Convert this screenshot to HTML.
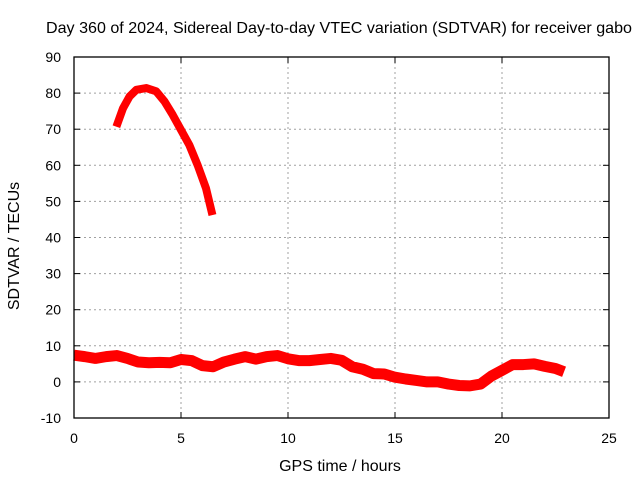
<!DOCTYPE html>
<html><head><meta charset="utf-8"><style>
body{margin:0;background:#fff}
svg text{font-family:"Liberation Sans",sans-serif;font-size:14px;fill:#000}
svg text.big{font-size:16px}
</style></head><body>
<svg id="chart" width="640" height="480">
<text class="big" x="339" y="33" text-anchor="middle" textLength="586" lengthAdjust="spacingAndGlyphs">Day 360 of 2024, Sidereal Day-to-day VTEC variation (SDTVAR) for receiver gabo</text>
<g id="grid"></g><g id="ticks"></g><g id="series"></g>
<rect x="74" y="57" width="535" height="361" fill="none" stroke="#000" stroke-width="1.3"/>
<text class="big" x="340" y="471" text-anchor="middle">GPS time / hours</text>
<text class="big" transform="translate(19,246) rotate(-90)" text-anchor="middle">SDTVAR / TECUs</text>
</svg>
<script>
const xTicks=[0,5,10,15,20,25];
const yTicks=[-10,0,10,20,30,40,50,60,70,80,90];
const upperHours=[1.98,2.29,2.6,2.91,3.38,3.84,4.23,4.61,5.0,5.39,5.78,6.17,6.47];
const upperValues=[70.7,75.8,79.1,80.9,81.4,80.5,77.7,74,69.8,65.6,60,53.6,46.2];
const lowerHours=[0,0.5,1,1.5,2,2.5,3,3.5,4,4.5,5,5.5,6,6.5,7,7.5,8,8.5,9,9.5,10,10.5,11,11.5,12,12.5,13,13.5,14,14.5,15,15.5,16,16.5,17,17.5,18,18.5,19,19.5,20,20.5,21,21.5,22,22.5,22.9];
const lowerValues=[7.4,7,6.5,7,7.3,6.5,5.5,5.3,5.4,5.3,6.2,5.9,4.5,4.2,5.5,6.3,7,6.3,7,7.3,6.4,5.9,5.9,6.2,6.5,6,4.2,3.5,2.3,2.2,1.3,0.8,0.4,0,0,-0.6,-1,-1.1,-0.6,1.6,3.2,4.8,4.8,5,4.3,3.7,2.8];
const X=h=>74+h*535/25, Y=v=>418-(v+10)*361/100;
const NS='http://www.w3.org/2000/svg';
function mk(t,p,a){const e=document.createElementNS(NS,t);for(const k in a)e.setAttribute(k,a[k]);p.appendChild(e);return e;}
const g=document.getElementById('grid'),tk=document.getElementById('ticks'),s=document.getElementById('series');
xTicks.forEach(t=>{
 if(t>0&&t<25){const l=mk('line',g,{x1:X(t),x2:X(t),y1:57,y2:418,stroke:'#a0a0a0','stroke-dasharray':'2,3'});
 
 }
 mk('line',tk,{x1:X(t),x2:X(t),y1:418,y2:412,stroke:'#000'});
 mk('line',tk,{x1:X(t),x2:X(t),y1:57,y2:63,stroke:'#000'});
 const tx=mk('text',tk,{x:X(t),y:443,'text-anchor':'middle'});tx.textContent=t;
 
 
});
yTicks.forEach(t=>{
 if(t>-10&&t<90){const l=mk('line',g,{x1:74,x2:609,y1:Y(t),y2:Y(t),stroke:'#a0a0a0','stroke-dasharray':'2,3'});
 
 }
 mk('line',tk,{x1:74,x2:80,y1:Y(t),y2:Y(t),stroke:'#000'});
 mk('line',tk,{x1:609,x2:603,y1:Y(t),y2:Y(t),stroke:'#000'});
 const tx=mk('text',tk,{x:61,y:Y(t)+5,'text-anchor':'end'});tx.textContent=t;
 
 
});
function line(hs,vs,w){return mk('polyline',s,{points:hs.map((h,i)=>X(h)+','+Y(vs[i])).join(' '),fill:'none',stroke:'#f00','stroke-width':w,'stroke-linejoin':'round'});}
const u=line(upperHours,upperValues,8);


const lo=line(lowerHours,lowerValues,11);


</script>
</body></html>
